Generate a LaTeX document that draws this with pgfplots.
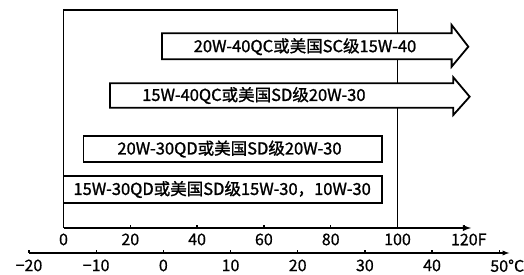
\documentclass[border=0pt]{standalone}
\usepackage{pgfplots}
\pgfplotsset{compat=1.18}
\usepackage{fontspec}
\setmainfont{Noto Sans CJK SC}[FakeBold=0.6]
\newfontfamily\barfont{Noto Sans CJK SC}[FakeBold=1.2]
\begin{document}
\begin{tikzpicture}[x=1pt,y=1pt]
\useasboundingbox (0,0) rectangle (524,275);
% Celsius scale
\begin{axis}[
  at={(29pt,22pt)}, anchor=south west,
  scale only axis, width=480.3pt, height=10pt,
  xmin=-20, xmax=51.5, ymin=0, ymax=1,
  axis x line=bottom, axis y line=none,
  x axis line style={line width=1.3pt, -latex},
  xtick={-20,-10,...,50},
  xticklabels={−20,−10,0,10,20,30,40,50\rlap{°C}},
  tick align=inside, major tick length=2.5pt,
  tick style={black, line width=1.3pt},
  xticklabel style={font=\fontsize{16}{16}\selectfont, yshift=-3pt},
]
\addplot[draw=none] coordinates {(0,0)};
\end{axis}
% Fahrenheit scale with grade bars
\begin{axis}[
  at={(63.5pt,47pt)}, anchor=south west,
  scale only axis, width=407.5pt, height=218pt,
  xmin=0, xmax=122, ymin=0, ymax=218,
  clip=false,
  axis x line=bottom, axis y line=none,
  x axis line style={line width=1.8pt, -latex},
  xtick={0,20,...,120},
  xticklabels={0,20,40,60,80,100,120\rlap{F}},
  tick align=inside, major tick length=2.5pt,
  tick style={black, line width=1.3pt},
  xticklabel style={font=\fontsize{16}{16}\selectfont, yshift=-2pt},
]
% frame
\addplot[black, line width=1.8pt] coordinates {(0,0) (0,218) (100,218) (100,0)};
% arrow 1
\addplot[fill=white, draw=black, line width=1.8pt] coordinates
  {(29.5,168.7) (116.2,168.7) (116.2,161.3) (121.2,181.3) (116.2,203) (116.2,194.7) (29.5,194.7)} -- cycle;
% arrow 2
\addplot[fill=white, draw=black, line width=1.8pt] coordinates
  {(13.9,120.3) (116.7,120.3) (116.7,113) (121.6,131.3) (116.7,150.7) (116.7,144.7) (13.9,144.7)} -- cycle;
% box 3
\addplot[fill=white, draw=black, line width=1.8pt] coordinates
  {(6,65.7) (95.3,65.7) (95.3,92) (6,92)} -- cycle;
% box 4
\addplot[fill=white, draw=black, line width=1.8pt] coordinates
  {(0,24.7) (95.3,24.7) (95.3,52) (0,52)} -- cycle;
\node[font=\barfont\fontsize{16.5}{18}\selectfont] at (axis cs:72.3,181.3) {20W-40QC或美国SC级15W-40};
\node[font=\barfont\fontsize{16.5}{18}\selectfont] at (axis cs:57.0,132.5) {15W-40QC或美国SD级20W-30};
\node[font=\barfont\fontsize{16.5}{18}\selectfont] at (axis cs:49.7,79) {20W-30QD或美国SD级20W-30};
\node[font=\barfont\fontsize{16.5}{18}\selectfont] at (axis cs:47.5,38.5) {15W-30QD或美国SD级15W-30，10W-30};
\end{axis}
\end{tikzpicture}
\end{document}
